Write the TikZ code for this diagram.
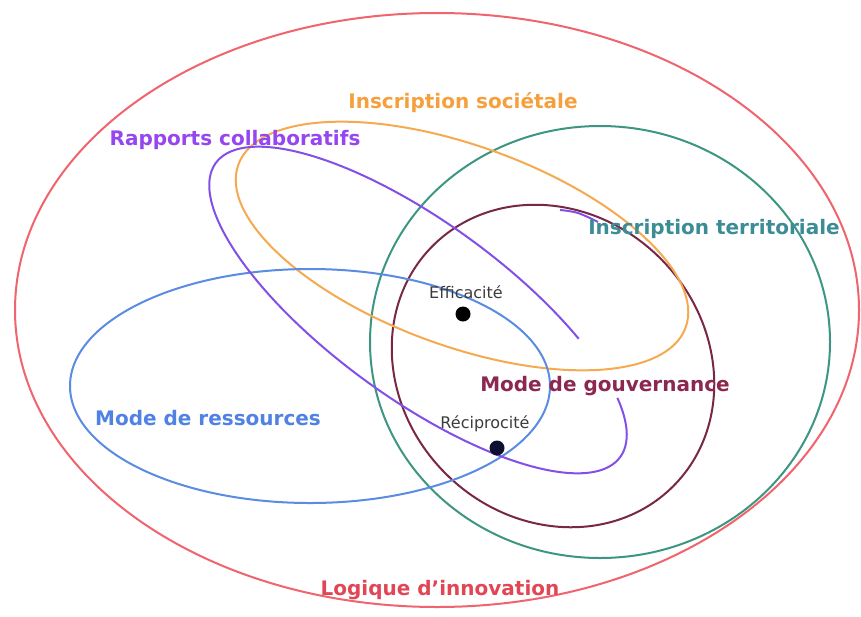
\documentclass[tikz,border=0pt]{standalone}
\usepackage{fontspec}
\setmainfont{DejaVu Sans}
\definecolor{redline}{RGB}{240,100,110}
\definecolor{redtext}{RGB}{225,70,85}
\definecolor{orline}{RGB}{245,170,80}
\definecolor{ortext}{RGB}{245,160,60}
\definecolor{puline}{RGB}{130,80,230}
\definecolor{putext}{RGB}{150,70,240}
\definecolor{teline}{RGB}{60,150,130}
\definecolor{tetext}{RGB}{60,140,150}
\definecolor{blline}{RGB}{90,140,225}
\definecolor{bltext}{RGB}{80,130,230}
\definecolor{maline}{RGB}{120,40,70}
\definecolor{matext}{RGB}{140,40,80}
\definecolor{dotlabel}{RGB}{60,60,60}
\begin{document}
\begin{tikzpicture}[x=1pt,y=-1pt,
  contour/.style={line width=2pt},
  biglabel/.style={font=\bfseries\fontsize{20}{24}\selectfont, inner sep=0pt},
  smalllabel/.style={font=\fontsize{16}{19}\selectfont, text=dotlabel, inner sep=0pt},
  dotmark/.style={circle, fill=black, minimum size=15pt, inner sep=0pt}]
\useasboundingbox[fill=white] (0,0) rectangle (861,616);
% Logique d'innovation
\draw[contour, redline] (437,310) ellipse [x radius=422pt, y radius=297pt];
% Inscription territoriale
\draw[contour, teline] (600,342) ellipse [x radius=230pt, y radius=216pt];
% Mode de gouvernance
\draw[contour, maline, rotate around={-45:(553,366)}] (553,366) ellipse [x radius=170pt, y radius=152pt];
% Inscription societale
\draw[contour, orline, rotate around={-20:(462,246)}] (462,246) ellipse [x radius=238pt, y radius=100pt];
% Mode de ressources
\draw[contour, blline] (310,386) ellipse [x radius=240pt, y radius=117pt];
% Rapports collaboratifs (open loop)
\draw[contour, puline, domain=-31.6:306, samples=140, smooth, variable=\t]
  plot ({418+202.25*cos(\t)-51.74*sin(\t)}, {310+147*cos(\t)+71.19*sin(\t)});
\draw[contour, puline] plot[smooth, tension=0.6] coordinates {
  (560,210) (578,213) (598,222)};
% labels
\node[biglabel, text=ortext] (soc) at (463,103) {Inscription sociétale};
\node[biglabel, text=putext] (rap) at (235,140) {Rapports collaboratifs};
\node[biglabel, text=tetext] (ter) at (714,229) {Inscription territoriale};
\node[biglabel, text=matext] (gouv) at (605,386) {Mode de gouvernance};
\node[biglabel, text=bltext] (res) at (208,418) {Mode de ressources};
\node[biglabel, text=redtext] (inno) at (440,590) {Logique d'innovation};
\node[smalllabel] (effl) at (466,292) {Efficacité};
\node[smalllabel] (recl) at (485,424) {Réciprocité};
\node[dotmark] (eff) at (463,314) {};
\node[dotmark, fill={rgb,255:red,15;green,15;blue,50}] (rec) at (497,448) {};
\end{tikzpicture}
\end{document}
